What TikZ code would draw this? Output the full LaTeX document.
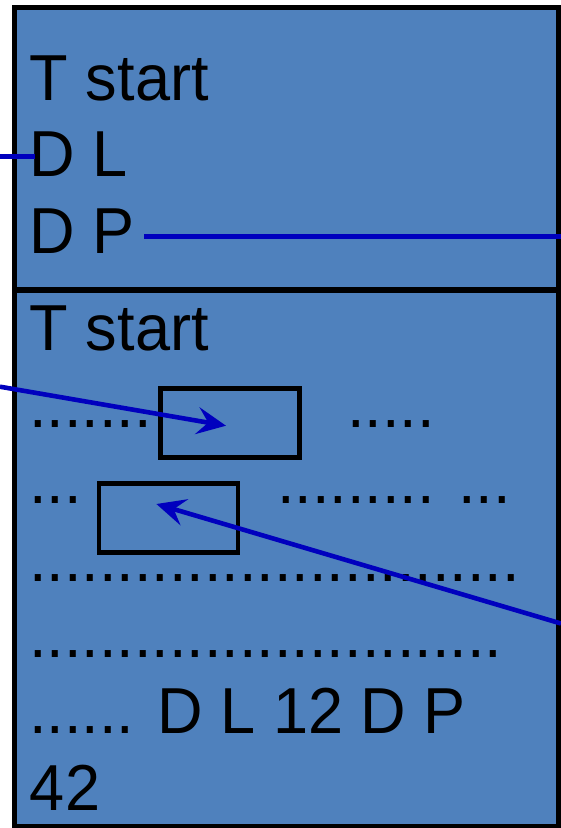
\documentclass[tikz,border=0pt]{standalone}
\usepackage{fontspec}
\setmainfont{Liberation Sans}[FakeStretch=0.97]
\usepackage{tikz}
\usetikzlibrary{arrows.meta,positioning,calc}
\definecolor{panelblue}{RGB}{79,129,189}
\definecolor{linkblue}{RGB}{0,0,190}

\begin{document}
\begin{tikzpicture}[
    x=1pt, y=-1pt,
    font=\fontsize{65}{76}\selectfont,
    panel/.style={draw=black, fill=panelblue, line width=5pt},
    divider/.style={black, line width=5.5pt},
    txt/.style={anchor=base west, inner sep=0pt, outer sep=0pt},
    frame/.style={
        draw=black,
        line width=4.6pt,
        minimum width=139pt,
        minimum height=69pt,
        inner sep=0pt,
        outer sep=0pt
    },
    link/.style={linkblue, line width=4.6pt},
    pointer/.style={link, -{Stealth[length=29pt, width=27pt, inset=11pt]}}
]

\useasboundingbox (0,0) rectangle (561,828);

% Panel
\draw[panel] (14,7.5) rectangle (558,826.5);
\draw[divider] (14,290) -- (558,290);

% =====================================================
% UPPER PART
% =====================================================

\node[txt] (tstartA) at (30,100) {T start};
\node[txt] (dl) at (30,176.7) {D L};
\node[txt] (dp) at (30,253.3) {D P};

% =====================================================
% LOWER PART
% =====================================================

\node[txt] (tstartB) at (30,350) {T start};

% Row 1
\node[txt] (rowAleft) at (29,427) {.......};
\node[frame] (boxA) at (230,422.7) {};
\node[txt] (rowAright) at (347,427) {.....};

% Row 2
\node[txt] (rowBleft) at (29,503) {...};
\node[frame] (boxB) at (168.5,518.2) {};
\node[txt] (rowBright) at (277,503) {......... ...};

% Rows 3 to 6
\node[txt] (rowC) at (29,581) {............................};
\node[txt] (rowD) at (29,657) {...........................};
\node[txt] (rowE) at (29,733) {...... D L 12 D P};
\node[txt] (num) at (30,810) {42};

% =====================================================
% CONNECTORS
% =====================================================

\coordinate (dlin) at (0,156.7);
\coordinate (dpout) at (561,236.7);
\coordinate (inA) at (0,386.7);
\coordinate (tipA) at (226,425.7);
\coordinate (inB) at (561,623.5);
\coordinate (tipB) at (156.4,504);

\draw[link] (dlin) -- ($(dl.west |- dlin)+(5,0)$);
\draw[link] ($(dp.east |- dpout)+(9,0)$) -- (dpout);
\draw[pointer] (inA) -- (tipA);
\draw[pointer] (inB) -- (tipB);

\end{tikzpicture}
\end{document}
